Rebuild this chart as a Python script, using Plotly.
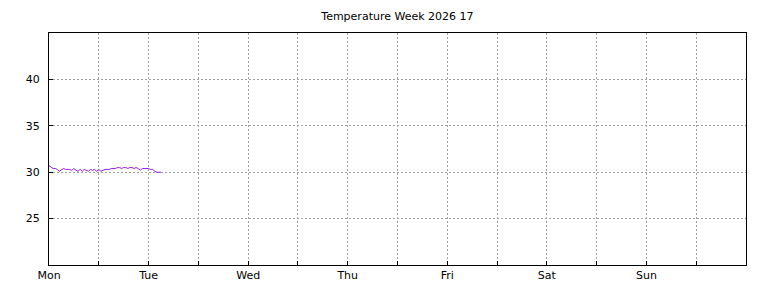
import plotly.graph_objects as go

# hours since Monday 00:00, 30-minute steps
hours = [i * 0.5 for i in range(55)]
temps = [30.7, 30.5, 30.4, 30.4, 30.3, 30.1, 30.3, 30.4, 30.3, 30.3,
         30.3, 30.2, 30.4, 30.2, 30.1, 30.3, 30.1, 30.3, 30.2, 30.1,
         30.3, 30.2, 30.3, 30.1, 30.3, 30.1, 30.2, 30.3, 30.3, 30.3,
         30.4, 30.4, 30.4, 30.5, 30.5, 30.4, 30.5, 30.5, 30.4, 30.5,
         30.5, 30.4, 30.5, 30.4, 30.2, 30.4, 30.4, 30.4, 30.4, 30.3,
         30.3, 30.1, 30.0, 30.0, 30.0]

day_labels = ["Mon", "", "Tue", "", "Wed", "", "Thu", "", "Fri", "", "Sat", "", "Sun", ""]
x_ticks = [i * 12 for i in range(14)]
y_ticks = [25, 30, 35, 40]
title = "Temperature Week 2026 17"

fig = go.Figure()
fig.add_trace(go.Scatter(x=hours, y=temps, mode="lines",
                         line=dict(color="#9a1ee8", width=1), showlegend=False))

fig.update_layout(
    width=768, height=288,
    margin=dict(l=49, r=22, t=33, b=23, autoexpand=False),
    paper_bgcolor="white", plot_bgcolor="white",
    font=dict(family="DejaVu Sans", size=11, color="black"),
    title=dict(text=title, x=0.5175, xanchor="center", y=0.945, yanchor="middle",
               font=dict(size=11, color="black")),
)
fig.update_xaxes(range=[0, 168], tickmode="array", tickvals=x_ticks, ticktext=day_labels,
                 showgrid=True, gridcolor="#a0a0a0", griddash="2px,2px", gridwidth=1,
                 showline=True, linecolor="black", linewidth=1, mirror=True,
                 ticks="inside", ticklen=4, tickcolor="black", zeroline=False,
                 automargin=False, ticklabelstandoff=0,
                 tickfont=dict(size=11))
fig.update_yaxes(range=[20, 45], tickmode="array", tickvals=y_ticks,
                 showgrid=True, gridcolor="#a0a0a0", griddash="2px,2px", gridwidth=1,
                 showline=True, linecolor="black", linewidth=1, mirror=True,
                 ticks="inside", ticklen=4, tickcolor="black", zeroline=False,
                 automargin=False, ticklabelstandoff=6,
                 tickfont=dict(size=11))

fig.write_html("out.html")
